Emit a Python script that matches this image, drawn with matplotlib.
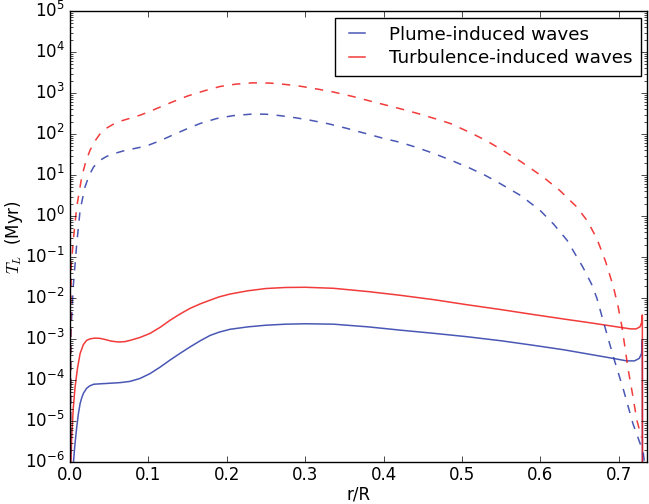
import numpy as np
import matplotlib
matplotlib.use('Agg')
import matplotlib.pyplot as plt

plt.style.use('classic')

# values as log10(T_L / Myr)

# plume-induced waves, solid line
r_plume = [0.0035, 0.006, 0.0085, 0.0105, 0.0128, 0.015, 0.017, 0.021, 0.025, 0.030,
           0.038, 0.047, 0.064, 0.0765, 0.089, 0.102, 0.115, 0.1275, 0.14, 0.153,
           0.166, 0.1785, 0.19, 0.204, 0.227, 0.25, 0.275, 0.30, 0.336, 0.38,
           0.421, 0.465, 0.506, 0.55, 0.591, 0.63, 0.663, 0.693, 0.710, 0.720,
           0.726, 0.729, 0.7300, 0.7302]
logT_plume = [-6.2, -5.6, -5.14, -4.83, -4.57, -4.42, -4.32, -4.2, -4.14, -4.10,
              -4.09, -4.08, -4.06, -4.03, -3.96, -3.84, -3.68, -3.51, -3.35, -3.19,
              -3.04, -2.91, -2.83, -2.76, -2.70, -2.66, -2.635, -2.625, -2.635, -2.70,
              -2.78, -2.86, -2.94, -3.04, -3.15, -3.26, -3.37, -3.47, -3.53, -3.53,
              -3.47, -3.35, -3.02, -9.0]

# turbulence-induced waves, solid line
r_turb = [0.0008, 0.002, 0.004, 0.0064, 0.0095, 0.0128, 0.017, 0.021, 0.026, 0.032,
          0.038, 0.045, 0.053, 0.062, 0.07, 0.0765, 0.089, 0.102, 0.115, 0.1275,
          0.14, 0.153, 0.166, 0.1785, 0.19, 0.204, 0.227, 0.25, 0.275, 0.30,
          0.336, 0.38, 0.421, 0.465, 0.506, 0.55, 0.591, 0.63, 0.663, 0.701,
          0.715, 0.722, 0.727, 0.729, 0.7300, 0.7302]
logT_turb = [-6.2, -5.4, -4.7, -4.16, -3.7, -3.35, -3.13, -3.03, -2.99, -2.975,
             -2.98, -3.01, -3.05, -3.07, -3.06, -3.03, -2.96, -2.86, -2.71, -2.54,
             -2.39, -2.25, -2.14, -2.05, -1.97, -1.90, -1.82, -1.765, -1.74, -1.735,
             -1.76, -1.84, -1.93, -2.04, -2.16, -2.28, -2.40, -2.51, -2.60, -2.71,
             -2.75, -2.75, -2.70, -2.60, -2.41, -9.0]

# plume-induced waves, dashed line
r_plume_d = [0.0005, 0.001, 0.004, 0.0085, 0.0128, 0.019, 0.024, 0.030, 0.038, 0.047,
             0.057, 0.068, 0.08, 0.09, 0.1, 0.115, 0.13, 0.148, 0.166, 0.187,
             0.208, 0.233, 0.25, 0.268, 0.287, 0.306, 0.33, 0.353, 0.376, 0.399,
             0.421, 0.443, 0.465, 0.485, 0.51, 0.53, 0.548, 0.575, 0.599, 0.617,
             0.634, 0.654, 0.665, 0.672, 0.680, 0.693, 0.706, 0.718, 0.731, 0.734]
logT_plume_d = [-6.2, -2.85, -1.72, -0.67, 0.15, 0.71, 0.98, 1.20, 1.36, 1.46,
                1.53, 1.59, 1.64, 1.68, 1.73, 1.84, 1.97, 2.12, 2.26, 2.38,
                2.45, 2.49, 2.485, 2.45, 2.40, 2.34, 2.25, 2.14, 2.02, 1.90,
                1.80, 1.67, 1.52, 1.37, 1.17, 0.99, 0.80, 0.50, 0.15, -0.20,
                -0.59, -1.24, -1.65, -2.0, -2.55, -3.43, -4.24, -5.06, -5.75, -6.2]

# turbulence-induced waves, dashed line
r_turb_d = [0.0003, 0.0008, 0.0015, 0.0043, 0.0085, 0.0149, 0.02, 0.0255, 0.032, 0.038,
            0.046, 0.055, 0.065, 0.077, 0.089, 0.1, 0.115, 0.13, 0.15, 0.172,
            0.191, 0.212, 0.233, 0.255, 0.275, 0.293, 0.315, 0.335, 0.36, 0.386,
            0.421, 0.444, 0.465, 0.485, 0.51, 0.53, 0.548, 0.575, 0.603, 0.625,
            0.646, 0.66, 0.672, 0.683, 0.693, 0.699, 0.704, 0.712, 0.718, 0.723,
            0.729]
logT_turb_d = [-6.2, -2.5, -1.2, -0.55, 0.23, 0.96, 1.33, 1.61, 1.84, 2.0,
               2.14, 2.24, 2.32, 2.39, 2.46, 2.54, 2.66, 2.78, 2.93, 3.06,
               3.16, 3.22, 3.25, 3.245, 3.21, 3.17, 3.10, 3.03, 2.92, 2.79,
               2.62, 2.50, 2.38, 2.26, 2.04, 1.85, 1.65, 1.33, 0.96, 0.62,
               0.23, -0.12, -0.55, -1.1, -1.72, -2.2, -2.7, -3.75, -4.4, -4.98,
               -5.4]

blue = '#2a3aa8'
red = '#f01818'

fig = plt.figure(figsize=(6.49, 5.04), dpi=100, facecolor='white')
ax = fig.add_axes([0.108, 0.083, 0.889, 0.895])

ax.plot(r_plume, 10 ** np.array(logT_plume), color=blue, lw=1.1, alpha=0.85,
        label='Plume-induced waves')
ax.plot(r_turb, 10 ** np.array(logT_turb), color=red, lw=1.1, alpha=0.85,
        label='Turbulence-induced waves')
ax.plot(r_plume_d, 10 ** np.array(logT_plume_d), color=blue, lw=1.1, alpha=0.85, ls='--')
ax.plot(r_turb_d, 10 ** np.array(logT_turb_d), color=red, lw=1.1, alpha=0.85, ls='--')

ax.set_yscale('log')
ax.set_xlim(0, 0.736)
ax.set_ylim(1e-6, 1e5)
ax.set_xticks(np.arange(0, 0.71, 0.1))
ax.tick_params(axis='x', pad=3)
ax.tick_params(axis='y', pad=4)
ax.set_xlabel('r/R', labelpad=1)
ax.set_ylabel('$T_L$  (Myr)', labelpad=0)
ax.legend(loc='upper right', fontsize=13.2, handlelength=1.5, handletextpad=1.0,
          labelspacing=0.3, borderpad=0.45, borderaxespad=0.35)

plt.savefig('out.png', dpi=100, facecolor='white')
